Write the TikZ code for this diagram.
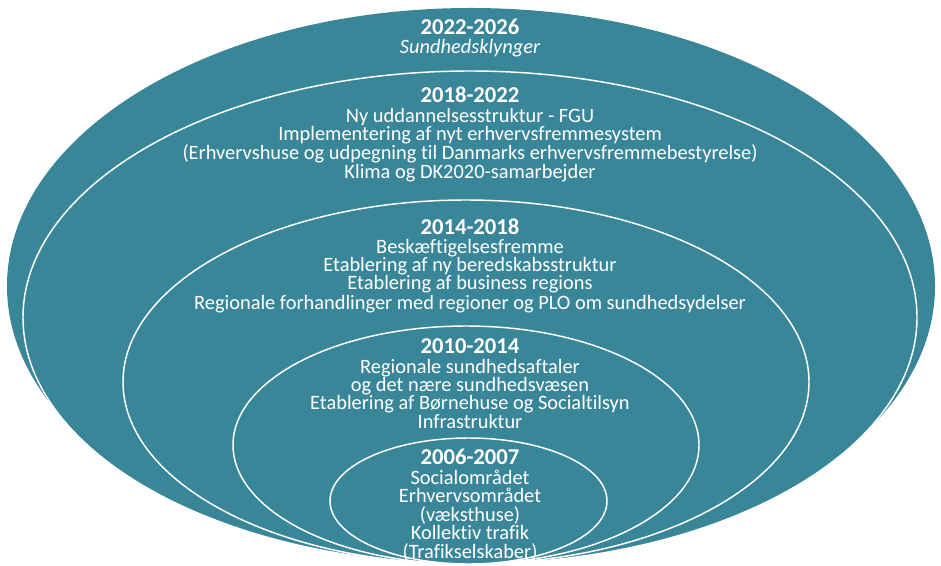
\documentclass[tikz,border=0pt]{standalone}
\usepackage{fontspec}
\setmainfont[Ligatures=NoCommon]{Carlito}
\definecolor{tealbg}{RGB}{58,134,153}
\begin{document}
\begin{tikzpicture}[x=0.75pt,y=-0.75pt,
  ring/.style={draw=white,line width=1.1pt,fill=tealbg},
  txt/.style={text=white,inner sep=0pt,anchor=base},
  head/.style={txt,font=\fontsize{17}{18}\selectfont\bfseries},
  body/.style={txt,font=\fontsize{15.3}{16}\selectfont},
  ital/.style={txt,font=\fontsize{15.3}{16}\selectfont\itshape}]
\useasboundingbox (0,0) rectangle (941,566);
\fill[tealbg] (471,286) ellipse [x radius=464, y radius=278];
\draw[ring] (470,317.5) ellipse [x radius=447, y radius=246.5];
\draw[ring] (466,382) ellipse [x radius=343, y radius=182];
\draw[ring] (466,445) ellipse [x radius=233, y radius=119];
\draw[ring] (468.5,501) ellipse [x radius=138.5, y radius=63];
% ring 1
\node[head] (h1) at (470,35) {2022-2026};
\node[ital] (a1) at (470,53.5) {Sundhedsklynger};
% ring 2
\node[head] (h2) at (470,102.7) {2018-2022};
\node[body] (b1) at (470,122.7) {Ny uddannelsesstruktur - FGU};
\node[body] (b2) at (470,141) {Implementering af nyt erhvervsfremmesystem};
\node[body] (b3) at (470,159.5) {(Erhvervshuse og udpegning til Danmarks erhvervsfremmebestyrelse)};
\node[body] (b4) at (470,178.3) {Klima og DK2020-samarbejder};
% ring 3
\node[head] (h3) at (470,234.3) {2014-2018};
\node[body] (c1) at (470,253.3) {Beskæftigelsesfremme};
\node[body] (c2) at (470,271.5) {Etablering af ny beredskabsstruktur};
\node[body] (c3) at (470,290) {Etablering af business regions};
\node[body] (c4) at (470,309.7) {Regionale forhandlinger med regioner og PLO om sundhedsydelser};
% ring 4
\node[head] (h4) at (470,353.7) {2010-2014};
\node[body] (d1) at (470,373) {Regionale sundhedsaftaler};
\node[body] (d2) at (470,391.5) {og det nære sundhedsvæsen};
\node[body] (d3) at (470,409.7) {Etablering af Børnehuse og Socialtilsyn};
\node[body] (d4) at (470,428.7) {Infrastruktur};
% ring 5
\node[head] (h5) at (470,464.7) {2006-2007};
\node[body] (e1) at (470,484) {Socialområdet};
\node[body] (e2) at (470,502.5) {Erhvervsområdet};
\node[body] (e3) at (470,521) {(væksthuse)};
\node[body] (e4) at (470,539.7) {Kollektiv trafik};
\node[body] (e5) at (470,558) {(Trafikselskaber)};
\end{tikzpicture}
\end{document}
